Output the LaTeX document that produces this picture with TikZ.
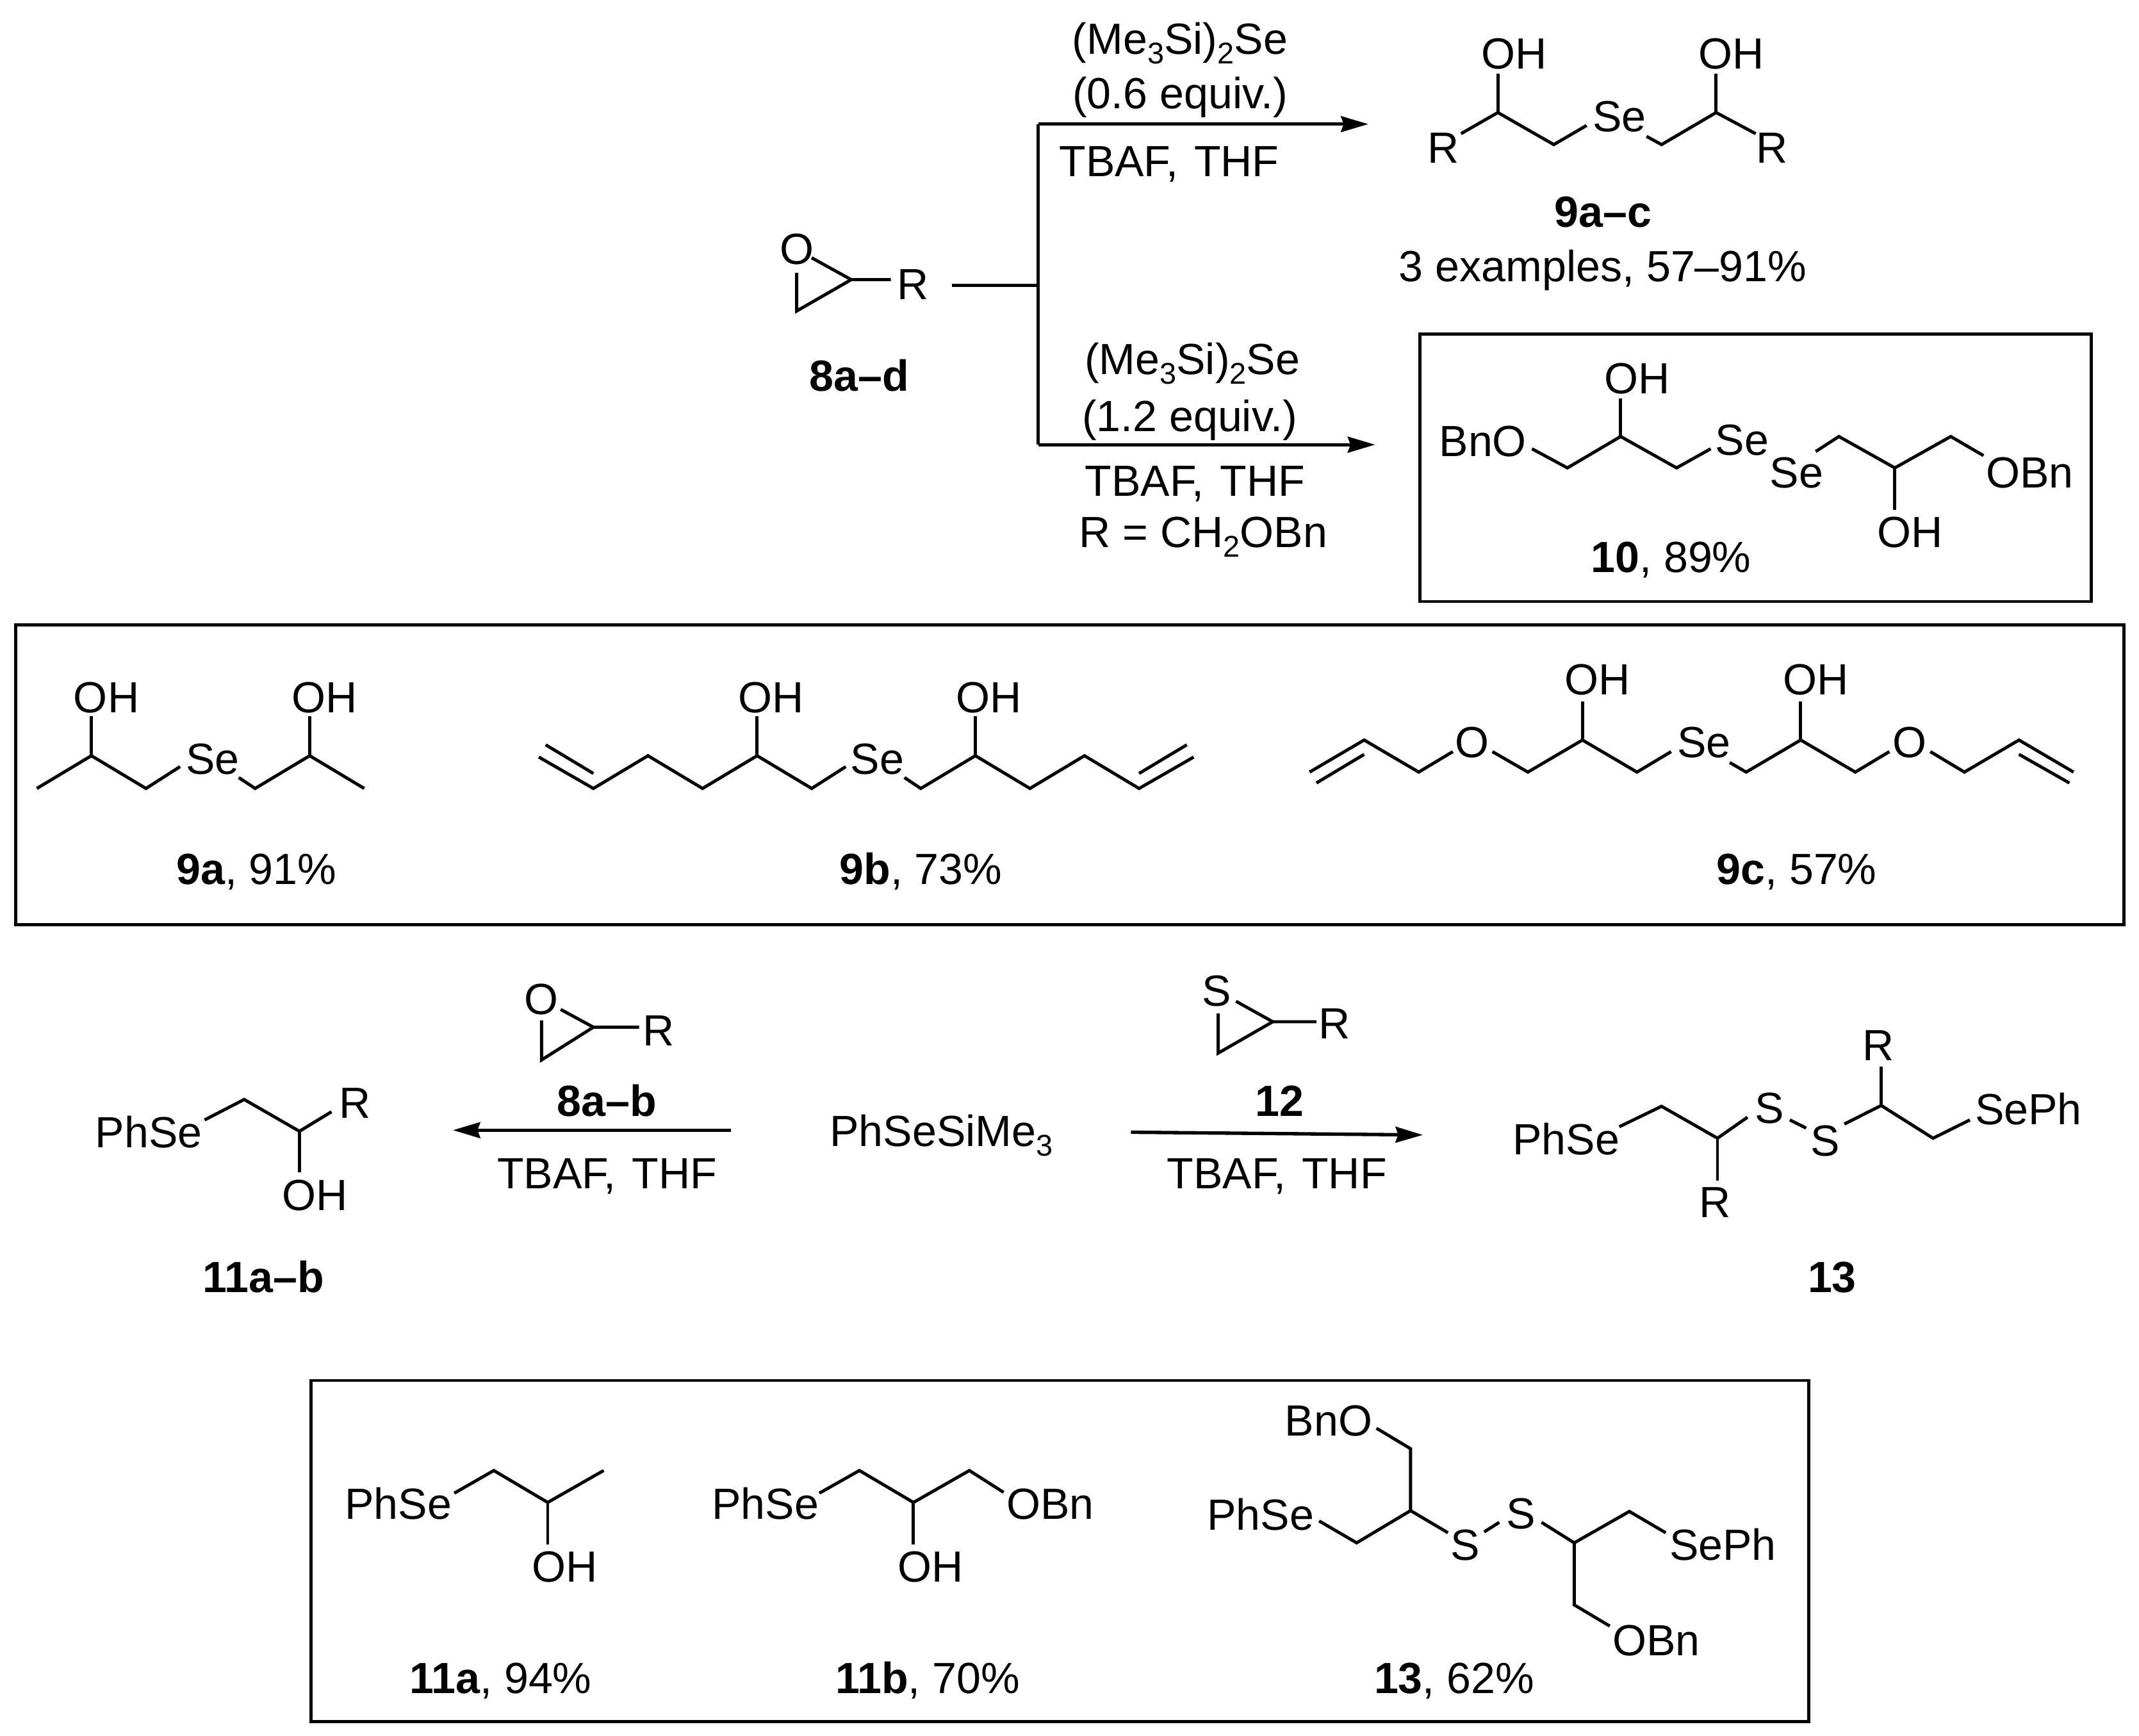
\documentclass[tikz,border=0pt]{standalone}
\usepackage{fontspec}
\setmainfont{Liberation Sans}
\usetikzlibrary{arrows.meta}
\newcommand{\sbs}[1]{\raisebox{-0.22em}{\fontsize{11}{11}\selectfont #1}}
\newcommand{\tbaf}{TBAF,\hspace{5.9pt}THF}
\tikzset{
  lb/.style={inner sep=0pt,text height=11.5pt,text depth=0pt,font=\fontsize{16}{16}\selectfont},
  bd/.style={line width=1.15pt,line join=miter,line cap=butt},
  boxline/.style={line width=1.1pt},
  rx/.style={line width=1.25pt,-{Stealth[length=10pt,width=5.8pt,inset=1pt]}},
}
\begin{document}
\begin{tikzpicture}[x=0.5pt,y=-0.5pt]
\useasboundingbox (0,0) rectangle (1568,1272.6);
% boxes
\draw[boxline] (1041,245) rectangle (1533,441);
\draw[boxline] (11.5,458) rectangle (1557,678);
\draw[boxline] (228,1012) rectangle (1326,1262);
% ---- top: epoxide 8
\node[lb] (o8) at (584,182) {O};
\node[lb] (r8) at (669,208) {R};
\node[lb] (l8) at (630,275) {\textbf{8a–d}};
\draw[bd] (595,189) -- (624,205) -- (653,205);
\draw[bd] (624,205) -- (584,228) -- (584,200);
% branch
\coordinate (bstart) at (698,209);
\coordinate (bjoin) at (761,209);
\coordinate (btop) at (761,91);
\coordinate (bbot) at (761,326);
\coordinate (etop) at (1003,91);
\coordinate (ebot) at (1008,326);
\draw[bd] (bstart) -- (bjoin);
\draw[bd] (btop) -- (bbot);
\draw[rx] (btop) -- (etop);
\draw[rx] (bbot) -- (ebot);
\node[lb] (c1) at (865,28) {(Me\sbs{3}Si)\sbs{2}Se};
\node[lb] (c2) at (865,68) {(0.6 equiv.)};
\node[lb] (c3) at (857,118) {\tbaf};
\node[lb] (c4) at (874,263) {(Me\sbs{3}Si)\sbs{2}Se};
\node[lb] (c5) at (872,305) {(1.2 equiv.)};
\node[lb] (c6) at (876,352) {\tbaf};
\node[lb] (c7) at (882,390) {R = CH\sbs{2}OBn};
% ---- 9 general
\node[lb] (n9oh1) at (1110,39) {OH};
\node[lb] (n9oh2) at (1269,39) {OH};
\node[lb] (n9r1) at (1058,108) {R};
\node[lb] (n9r2) at (1299,108) {R};
\node[lb] (n9se) at (1187,85) {Se};
\node[lb] (n9l) at (1175,155) {\textbf{9a–c}};
\node[lb] (n9y) at (1175,195) {3 examples, 57–91\%};
\draw[bd] (1098,54) -- (1098,82.5);
\draw[bd] (1071,98) -- (1098,82.5) -- (1139,106) -- (1163,92);
\draw[bd] (1207,100) -- (1218,106) -- (1258,82.5) -- (1287,98);
\draw[bd] (1258,54) -- (1258,82.5);
% ---- 10
\node[lb] (t10oh1) at (1200,277) {OH};
\node[lb] (t10bno) at (1087,323) {BnO};
\node[lb] (t10se1) at (1277,322) {Se};
\node[lb] (t10se2) at (1317,346) {Se};
\node[lb] (t10obn) at (1488,346) {OBn};
\node[lb] (t10oh2) at (1400,390) {OH};
\node[lb] (t10l) at (1225,408) {\textbf{10}, 89\%};
\draw[bd] (1123,329) -- (1149,343) -- (1188,320) -- (1229,343) -- (1254,329);
\draw[bd] (1188,292) -- (1188,320);
\draw[bd] (1331,331) -- (1348,320) -- (1389,343) -- (1430,320) -- (1454,334);
\draw[bd] (1389,343) -- (1389,374);
% ---- 9a
\node[lb] (a9oh1) at (78,511) {OH};
\node[lb] (a9oh2) at (238,511) {OH};
\node[lb] (a9se) at (156,556) {Se};
\node[lb] (a9l) at (188,637) {\textbf{9a}, 91\%};
\draw[bd] (27,578) -- (67,554) -- (107,578) -- (132,562);
\draw[bd] (67,525) -- (67,554);
\draw[bd] (175,570) -- (187,578) -- (227,554) -- (267,578);
\draw[bd] (227,525) -- (227,554);
% ---- 9b
\node[lb] (b9oh1) at (565,511) {OH};
\node[lb] (b9oh2) at (725,511) {OH};
\node[lb] (b9se) at (643,556) {Se};
\node[lb] (b9l) at (675,637) {\textbf{9b}, 73\%};
\draw[bd] (395,555) -- (435,578) -- (475,554) -- (515,578) -- (555,554) -- (595,578) -- (620,562);
\draw[bd] (400,546) -- (435,567);
\draw[bd] (555,525) -- (555,554);
\draw[bd] (663,570) -- (675,578) -- (715,554) -- (755,578) -- (795,554) -- (835,578) -- (875,555);
\draw[bd] (835,567) -- (870,546);
\draw[bd] (715,525) -- (715,554);
% ---- 9c
\node[lb] (c9oh1) at (1171,498) {OH};
\node[lb] (c9oh2) at (1331,498) {OH};
\node[lb] (c9o1) at (1079,544) {O};
\node[lb] (c9se) at (1249,544) {Se};
\node[lb] (c9o2) at (1400,544) {O};
\node[lb] (c9l) at (1317,637) {\textbf{9c}, 57\%};
\draw[bd] (960,566) -- (1000,542.5) -- (1040,566) -- (1065,551);
\draw[bd] (965,574) -- (1000,553);
\draw[bd] (1094,551) -- (1120,566) -- (1160,542.5) -- (1200,566) -- (1225,551);
\draw[bd] (1160,514) -- (1160,542.5);
\draw[bd] (1268,559) -- (1280,566) -- (1320,542.5) -- (1360,566) -- (1385,551);
\draw[bd] (1320,514) -- (1320,542.5);
\draw[bd] (1415,551) -- (1440,566) -- (1480,542.5) -- (1520,566);
\draw[bd] (1480,553) -- (1517,574);
% ---- middle row
\node[lb] (mo) at (397,732) {O};
\node[lb] (mr1) at (483,755) {R};
\node[lb] (ml1) at (445,807) {\textbf{8a–b}};
\draw[bd] (411,740) -- (435,753) -- (468.5,753);
\draw[bd] (435,753) -- (397,777) -- (397,748);
\node[lb] (ms) at (892,726) {S};
\node[lb] (mr2) at (978,750) {R};
\node[lb] (ml2) at (938,807) {\textbf{12}};
\draw[bd] (906,734) -- (933,749) -- (965,749);
\draw[bd] (933,749) -- (893,772) -- (893,743);
\node[lb] (ph) at (690,829) {PhSeSiMe\sbs{3}};
\coordinate (al1) at (536,828.5);
\coordinate (al2) at (332,828.5);
\coordinate (ar1) at (829,830);
\coordinate (ar2) at (1043,832);
\draw[rx] (al1) -- (al2);
\draw[rx] (ar1) -- (ar2);
\node[lb] (mt1) at (445,860) {\tbaf};
\node[lb] (mt2) at (936,860) {\tbaf};
% 11 general
\node[lb] (g11ps) at (109,830) {PhSe};
\node[lb] (g11r) at (260,808) {R};
\node[lb] (g11oh) at (231,876) {OH};
\node[lb] (g11l) at (193,936) {\textbf{11a–b}};
\draw[bd] (150,821) -- (179,806) -- (219.5,829.3) -- (243,815);
\draw[bd] (219.5,829.3) -- (219.5,859.5);
% 13 general
\node[lb] (g13ps) at (1148,835) {PhSe};
\node[lb] (g13s1) at (1297,812) {S};
\node[lb] (g13s2) at (1338,836) {S};
\node[lb] (g13sp) at (1487,813) {SePh};
\node[lb] (g13r1) at (1377,766) {R};
\node[lb] (g13r2) at (1257,881) {R};
\node[lb] (g13l) at (1343,936) {\textbf{13}};
\draw[bd] (1187,826) -- (1218,811) -- (1259,834.4) -- (1281,819);
\draw[bd] (1259,834.4) -- (1259,865.4);
\draw[bd] (1312,821) -- (1324,827);
\draw[bd] (1352,824) -- (1379,810.4) -- (1417,834.4) -- (1444,821);
\draw[bd] (1379,782) -- (1379,810.4);
% ---- bottom box
\node[lb] (a11ps) at (292,1102) {PhSe};
\node[lb] (a11oh) at (414,1148) {OH};
\node[lb] (a11l) at (367,1230) {\textbf{11a}, 94\%};
\draw[bd] (333,1094.6) -- (362,1078) -- (401.5,1101.4) -- (442.5,1078);
\draw[bd] (401.5,1101.4) -- (401.5,1132);
\node[lb] (b11ps) at (561,1102) {PhSe};
\node[lb] (b11ob) at (770,1102) {OBn};
\node[lb] (b11oh) at (682,1148) {OH};
\node[lb] (b11l) at (680,1230) {\textbf{11b}, 70\%};
\draw[bd] (600.6,1094.6) -- (630,1078) -- (669.6,1101.4) -- (710.6,1078) -- (735.7,1094);
\draw[bd] (669.6,1101.4) -- (669.6,1132);
\node[lb] (e13bn) at (974,1041) {BnO};
\node[lb] (e13ps) at (924,1110) {PhSe};
\node[lb] (e13s1) at (1074,1132) {S};
\node[lb] (e13s2) at (1115,1109) {S};
\node[lb] (e13sp) at (1263,1132) {SePh};
\node[lb] (e13ob) at (1214,1202) {OBn};
\node[lb] (e13l) at (1066,1230) {\textbf{13}, 62\%};
\draw[bd] (1009,1047) -- (1034,1062) -- (1034,1107.4) -- (994.5,1131) -- (967,1115);
\draw[bd] (1034,1107.4) -- (1061.4,1123.6);
\draw[bd] (1088,1123) -- (1099,1116);
\draw[bd] (1130,1116) -- (1154,1131) -- (1194.4,1108) -- (1221,1123.6);
\draw[bd] (1154,1131) -- (1154,1176.5) -- (1180,1192);
\end{tikzpicture}
\end{document}
